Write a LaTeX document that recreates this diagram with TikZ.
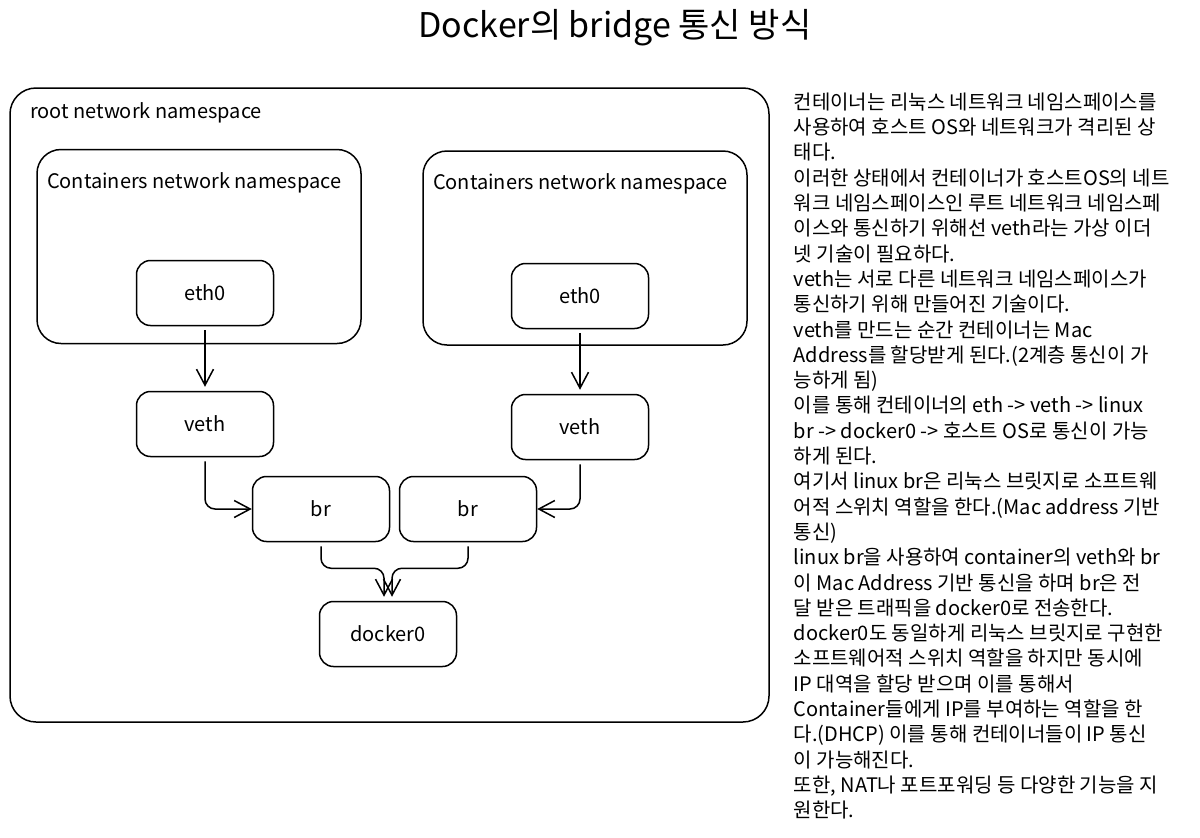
\documentclass[tikz,border=0pt]{standalone}
\usepackage{fontspec}
\setmainfont{Noto Sans CJK KR}
\usetikzlibrary{calc}
\usetikzlibrary{arrows.meta}
\usetikzlibrary{positioning}

\begin{document}
\begin{tikzpicture}[x=1pt, y=-1pt,
  line width=1.5pt,
  ns/.style={draw, rounded corners=24, minimum width=324, minimum height=194},
  box/.style={draw, rounded corners=14, minimum width=137, minimum height=65, font=\fontsize{20}{24}\selectfont},
  lbl/.style={anchor=west, inner sep=0, font=\fontsize{20}{24}\selectfont},
  link/.style={->, >={Straight Barb[length=16pt, width=17pt]}, rounded corners=10, shorten >=4pt, shorten <=4pt}]
\useasboundingbox (0,0) rectangle (1200,838);
\node[font=\fontsize{34}{38}\selectfont] (title) at (615,28) {Docker의 bridge 통신 방식};
\node[ns, rounded corners=26, minimum width=759, minimum height=634] (root) at (389.5,405) {};
\node[lbl] at ([shift={(20,26)}]root.north west) {root network namespace};
\foreach \n/\x/\y in {L/199/246.5, R/585/248} {
 \node[ns] (cont\n) at (\x,\y) {};
 \node[lbl] at ([shift={(10,34)}]cont\n.north west) {Containers network namespace};
}
\foreach \n/\x/\y in {L/205/293, R/580/296} {
 \node[box] (eth\n) at (\x,\y) {eth0};
 \node[box] (veth\n) at (\x,\y+131) {veth};
 \draw[link] (eth\n) -- (veth\n);
}
\node[box] (brL) at (321,509) {br};
\node[box] (brR) at (468,509) {br};
\node[box] (docker) at (388,634) {docker0};
\draw[link, shorten >=0pt] (vethL.south) |- (brL.west);
\draw[link, shorten >=0pt] (vethR.south) |- (brR.east);
\draw[link] (brL.south) --++(0,26) -| ([xshift=-4]docker.north);
\draw[link] (brR.south) --++(0,26) -| ([xshift=4]docker.north);
\node[anchor=north west, align=left, inner sep=0, font=\fontsize{20}{25.3}\selectfont] (desc) at (793,92) {%
컨테이너는 리눅스 네트워크 네임스페이스를\\
사용하여 호스트 OS와 네트워크가 격리된 상\\
태다.\\
이러한 상태에서 컨테이너가 호스트OS의 네트\\
워크 네임스페이스인 루트 네트워크 네임스페\\
이스와 통신하기 위해선 veth라는 가상 이더\\
넷 기술이 필요하다.\\
veth는 서로 다른 네트워크 네임스페이스가\\
통신하기 위해 만들어진 기술이다.\\
veth를 만드는 순간 컨테이너는 Mac\\
Address를 할당받게 된다.(2계층 통신이 가\\
능하게 됨)\\
이를 통해 컨테이너의 eth -> veth -> linux\\
br -> docker0 -> 호스트 OS로 통신이 가능\\
하게 된다.\\
여기서 linux br은 리눅스 브릿지로 소프트웨\\
어적 스위치 역할을 한다.(Mac address 기반\\
통신)\\
linux br을 사용하여 container의 veth와 br\\
이 Mac Address 기반 통신을 하며 br은 전\\
달 받은 트래픽을 docker0로 전송한다.\\
docker0도 동일하게 리눅스 브릿지로 구현한\\
소프트웨어적 스위치 역할을 하지만 동시에\\
IP 대역을 할당 받으며 이를 통해서\\
Container들에게 IP를 부여하는 역할을 한\\
다.(DHCP) 이를 통해 컨테이너들이 IP 통신\\
이 가능해진다.\\
또한, NAT나 포트포워딩 등 다양한 기능을 지\\
원한다.};
\end{tikzpicture}
\end{document}
